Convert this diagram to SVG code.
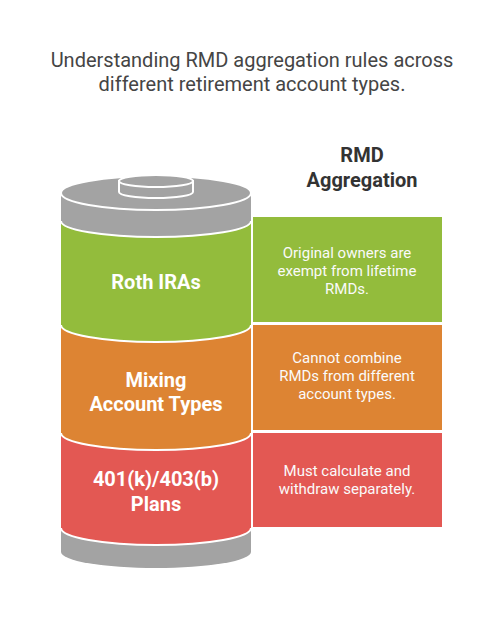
<svg xmlns="http://www.w3.org/2000/svg" width="504" height="642" viewBox="0 0 504 642">
<style>
.title{font-family:Roboto,"Liberation Sans",sans-serif;font-size:20px;fill:#454545;text-anchor:middle}
.head{font-family:Roboto,"Liberation Sans",sans-serif;font-size:20px;font-weight:bold;fill:#333;text-anchor:middle}
.lab{font-family:Roboto,"Liberation Sans",sans-serif;font-size:20px;font-weight:bold;fill:#fff;text-anchor:middle}
.desc{font-family:Roboto,"Liberation Sans",sans-serif;font-size:15px;fill:#fafafa;text-anchor:middle}
.ln{fill:none;stroke:#fff;stroke-width:2}
</style>
<rect width="504" height="642" fill="#fff"/>
<text class="title" x="252" y="67">Understanding RMD aggregation rules across</text>
<text class="title" x="252" y="91">different retirement account types.</text>
<g id="header"><text class="head" x="362" y="162">RMD</text><text class="head" x="362" y="187">Aggregation</text></g>
<g id="base">
<path d="M61,528 H251 V552 A95,16 0 0 1 61,552 Z" fill="#a3a3a3"/>
</g>
<g id="plans">
<path d="M61,433 H251 V528 A95,17 0 0 1 61,528 Z" fill="#e35853"/>
<path class="ln" d="M251,528 A95,17 0 0 1 61,528"/>
<text class="lab" x="156" y="486">401(k)/403(b)</text>
<text class="lab" x="156" y="511">Plans</text>
</g>
<g id="mixing">
<path d="M61,325 H251 V433 A95,17 0 0 1 61,433 Z" fill="#dd8433"/>
<path class="ln" d="M251,433 A95,17 0 0 1 61,433"/>
<text class="lab" x="156" y="387">Mixing</text>
<text class="lab" x="156" y="411">Account Types</text>
</g>
<g id="roth">
<path d="M61,221 H251 V325 A95,17 0 0 1 61,325 Z" fill="#93bc3c"/>
<path class="ln" d="M251,325 A95,17 0 0 1 61,325"/>
<text class="lab" x="156" y="289">Roth IRAs</text>
</g>
<g id="cap">
<path d="M61,193 H251 V221 A95,16 0 0 1 61,221 Z" fill="#a3a3a3"/>
<path class="ln" d="M251,221 A95,16 0 0 1 61,221"/>
<ellipse cx="156" cy="193" rx="95" ry="17" fill="#a3a3a3" stroke="#fff" stroke-width="2"/>
<path d="M119,181 H193 V192 A37,6 0 0 1 119,192 Z" fill="#a3a3a3" stroke="#fff" stroke-width="2"/>
<ellipse cx="156" cy="181" rx="37" ry="6" fill="#a3a3a3" stroke="#fff" stroke-width="2"/>
</g>
<g id="box-roth">
<rect x="253" y="217" width="189" height="105" fill="#93bc3c"/>
<text class="desc" x="347" y="258">Original owners are</text>
<text class="desc" x="347" y="276">exempt from lifetime</text>
<text class="desc" x="347" y="294">RMDs.</text>
</g>
<g id="box-mixing">
<rect x="253" y="325" width="189" height="105" fill="#dd8433"/>
<text class="desc" x="347" y="363">Cannot combine</text>
<text class="desc" x="347" y="381">RMDs from different</text>
<text class="desc" x="347" y="399">account types.</text>
</g>
<g id="box-plans">
<rect x="253" y="433" width="189" height="94" fill="#e35853"/>
<text class="desc" x="347" y="476">Must calculate and</text>
<text class="desc" x="347" y="494">withdraw separately.</text>
</g>
<g id="connectors"></g>
</svg>
